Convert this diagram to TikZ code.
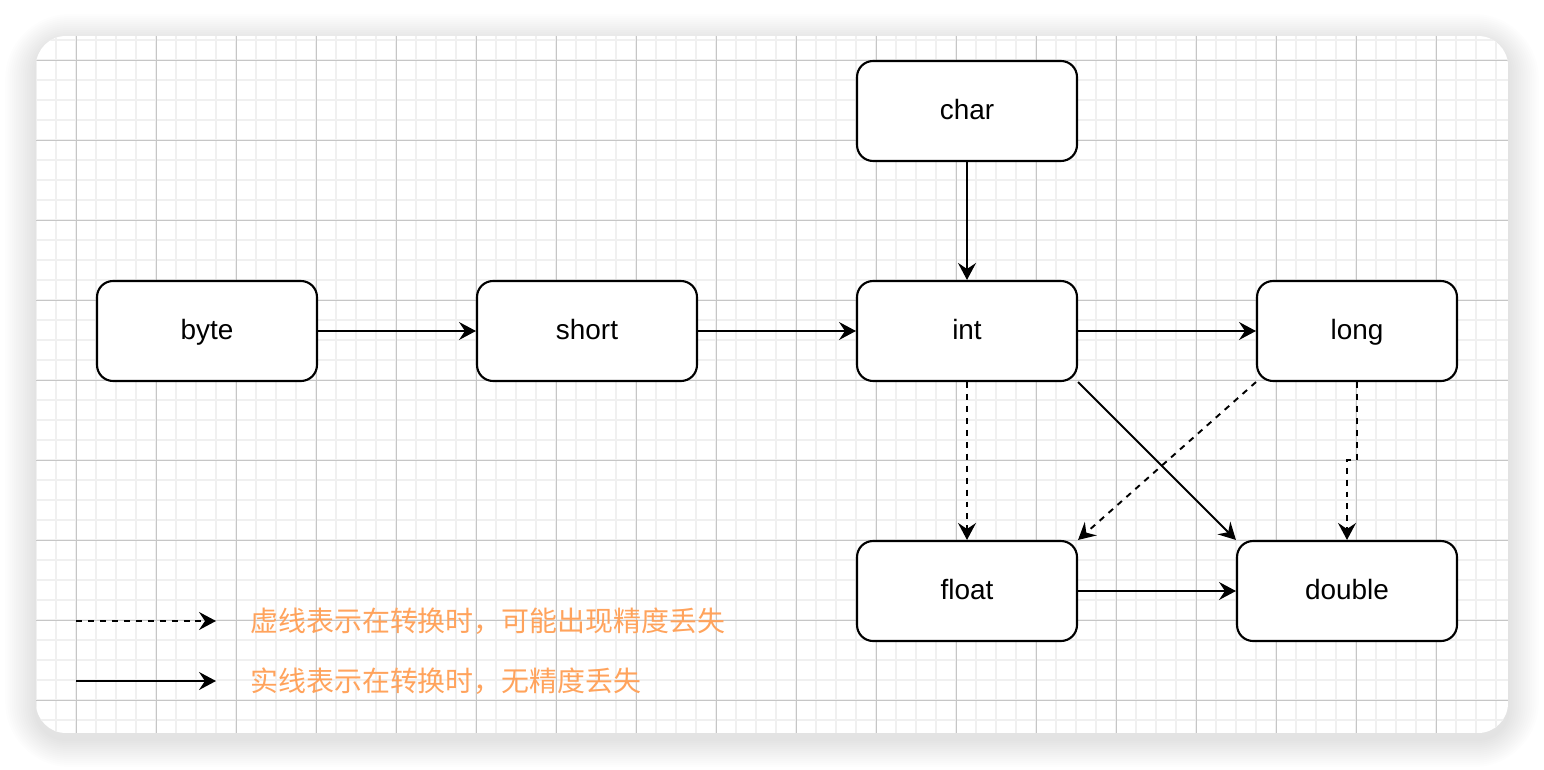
\documentclass[tikz,border=0pt]{standalone}
\usepackage{fontspec}
\setmainfont{Liberation Sans}
\newfontfamily\cjk{Noto Sans CJK SC}
\usepackage{tikz}
\usetikzlibrary{%
arrows.meta,%
calc}
\definecolor{gridminor}{RGB}{240,240,240}
\definecolor{gridmajor}{RGB}{198,198,198}
\definecolor{noteorange}{RGB}{255,163,92}
\tikzset{
  typebox/.style={draw,fill=white,line width=1.2pt,rounded corners=0.32cm,
    minimum width=4.4cm,minimum height=2cm,inner sep=0pt,
    text height=13.6pt,text depth=3.4pt,
    font=\fontsize{15.9}{19}\selectfont},
  conv/.style={-{Stealth[length=3.4mm,width=3.6mm,inset=1.2mm]},line width=1.1pt},
  lossy/.style={conv,dash pattern=on 3.4pt off 3.4pt},
  note/.style={anchor=west,inner sep=0pt,text=noteorange,
    font=\cjk\fontsize{15.9}{19}\selectfont},
}

\begin{document}
\begin{tikzpicture}[x=0.02cm,y=-0.02cm]
\useasboundingbox (0,0) rectangle (1544,770);
% card shadow
\foreach \i in {1,...,14}
  \fill[black,opacity=0.008,rounded corners=0.6cm+\i*0.05cm]
    (36-\i*2.2,36-\i*2+6) rectangle (1508+\i*2.2,733+\i*2+6);
% card with grid
\begin{scope}
  \clip[rounded corners=0.6cm] (36,36) rectangle (1508,733);
  \fill[white] (36,36) rectangle (1508,733);
  \foreach \x in {36,56,...,1508}
    \draw[gridminor,line width=0.6pt] (\x,36) -- (\x,733);
  \foreach \y in {40,60,...,733}
    \draw[gridminor,line width=0.6pt] (36,\y) -- (1508,\y);
  \foreach \x in {76,156,...,1508}
    \draw[gridmajor,line width=0.5pt] (\x,36) -- (\x,733);
  \foreach \y in {60,140,...,733}
    \draw[gridmajor,line width=0.5pt] (36,\y) -- (1508,\y);
\end{scope}

% types
\node[typebox] (byte) at (207,331) {byte};
\node[typebox] (short) at (587,331) {short};
\node[typebox] (int) at (967,331) {int};
\node[typebox] (char) at (967,111) {char};
\node[typebox,minimum width=4cm] (long) at (1357,331) {long};
\node[typebox] (float) at (967,591) {float};
\node[typebox] (double) at (1347,591) {double};

% conversions
\draw[conv] (byte) -- (short);
\draw[conv] (short) -- (int);
\draw[conv] (char) -- (int);
\draw[conv] (int) -- (long);
\draw[conv] (float) -- (double);
\draw[conv] (int.south east) -- (double.north west);
\draw[lossy] (int) -- (float);
\draw[lossy] (long.south west) -- (float.north east);
\coordinate (bend) at (1357,460);
\draw[lossy] (long.south) -- (bend) -| (double.north);

% legend
\coordinate (lossyA) at (76,621);
\coordinate (lossyB) at (216,621);
\coordinate (safeA) at (76,681);
\coordinate (safeB) at (216,681);
\draw[lossy] (lossyA) -- (lossyB);
\draw[conv] (safeA) -- (safeB);
\node[note] (lossytext) at (250,621) {虚线表示在转换时，可能出现精度丢失};
\node[note] (safetext) at (250,681) {实线表示在转换时，无精度丢失};
\end{tikzpicture}
\end{document}
